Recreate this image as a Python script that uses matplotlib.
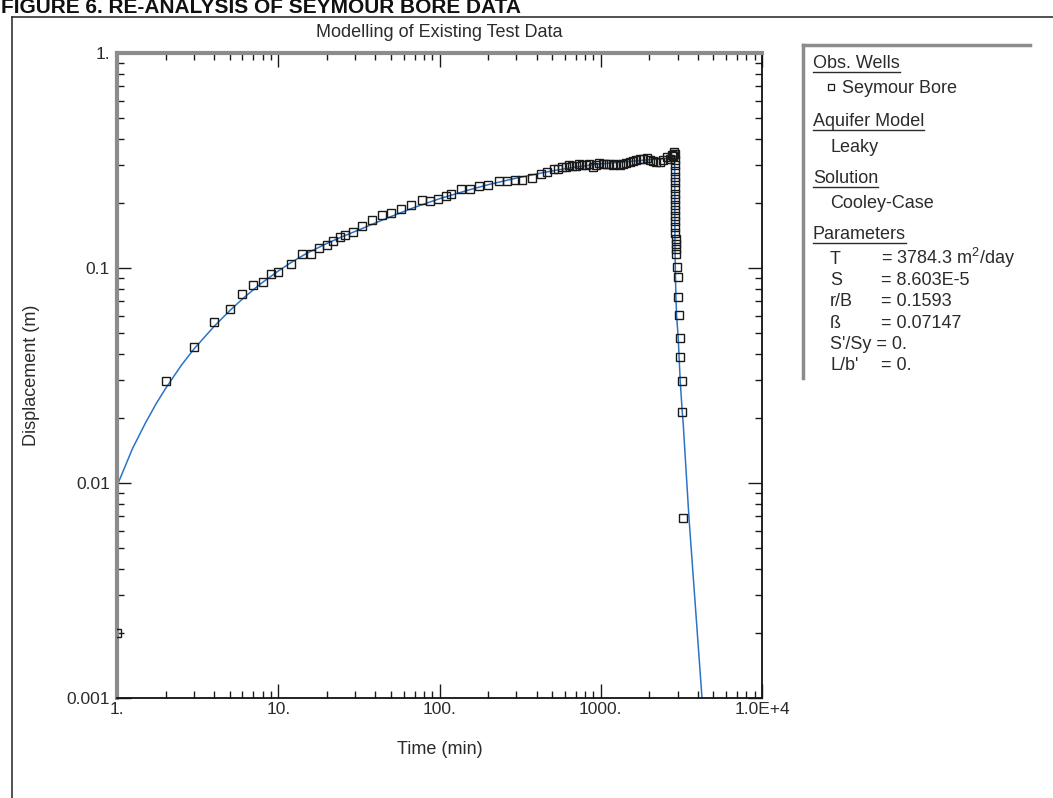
import matplotlib.pyplot as plt
import numpy as np
from matplotlib.lines import Line2D
from matplotlib.ticker import LogLocator, NullFormatter

plt.rcParams.update({
    "font.family": ["Liberation Sans", "DejaVu Sans"],
    "mathtext.fontset": "custom",
    "mathtext.rm": "Liberation Sans",
    "mathtext.it": "Liberation Sans:italic",
})

INK = "#2b2b2b"
FRAME = "#8c8c8c"
CURVE = "#2a74c6"

# observed displacement at Seymour Bore (pumping, then recovery)
obs_time = [1, 2, 3, 4, 5, 6, 7, 8, 9, 10, 12, 14, 16, 18, 20, 22, 24, 26, 29,
            33, 38, 44, 50, 58, 67, 78, 87, 98, 110, 118, 136, 155, 176, 200,
            234, 263, 295, 326, 376, 428, 466, 515,
            545, 578, 610, 640, 667, 700, 735, 770, 810, 850, 889, 930, 982,
            1030, 1080, 1133, 1190, 1250, 1308, 1370, 1440, 1510, 1580, 1660,
            1742, 1830, 1926, 2010, 2099, 2200, 2319, 2440, 2565, 2680, 2750,
            2794, 2830, 2860,
            2872, 2875, 2877, 2879, 2881, 2883, 2885, 2887, 2889, 2891, 2893,
            2896, 2899, 2902, 2905, 2909, 2913, 2918, 2924, 2954, 2997, 2997,
            3053, 3111, 3111, 3173, 3173, 3245]
obs_disp = [0.0020, 0.0297, 0.0431, 0.0562, 0.0645, 0.0757, 0.0833, 0.0860,
            0.0936, 0.0955, 0.1040, 0.1157, 0.1156, 0.1244, 0.1285, 0.1340,
            0.1398, 0.1427, 0.1474, 0.1570, 0.1672, 0.1762, 0.1800, 0.1877,
            0.1957, 0.2063, 0.2041, 0.2105, 0.2172, 0.2219, 0.2337, 0.2337,
            0.2411, 0.2437, 0.2539, 0.2539, 0.2563, 0.2563, 0.2617, 0.2728,
            0.2787, 0.2875,
            0.289, 0.2965, 0.294, 0.301, 0.2997, 0.297, 0.303, 0.3027, 0.300,
            0.304, 0.2959, 0.302, 0.3088, 0.305, 0.303, 0.3052, 0.300, 0.304,
            0.3016, 0.306, 0.309, 0.3112, 0.315, 0.318, 0.3209, 0.323, 0.3244,
            0.319, 0.3140, 0.312, 0.3105, 0.318, 0.3272, 0.322, 0.334, 0.3307,
            0.340, 0.345,
            0.338, 0.318, 0.300, 0.283, 0.266, 0.250, 0.236, 0.222, 0.209,
            0.197, 0.186, 0.175, 0.165, 0.155, 0.146, 0.137, 0.129, 0.122,
            0.1158, 0.1008, 0.0905, 0.0731, 0.0602, 0.0475, 0.0384, 0.0297,
            0.0215, 0.0069]

# fitted Cooley-Case leaky curve
fit_time = [1, 1.25, 1.5, 1.75, 2, 2.5, 3, 4, 5, 6, 7, 8, 10, 12, 15, 20, 25,
            30, 40, 50, 70, 100, 150, 200, 300, 500, 700, 1000, 1500, 2000,
            2500, 2865, 2872, 2877, 2881, 2885, 2900, 2925, 2954, 3022, 3111,
            3201, 3247, 3524, 4246, 4600]
fit_disp = [0.0097, 0.0145, 0.0190, 0.0234, 0.0275, 0.0352, 0.0420, 0.0535,
            0.0633, 0.0718, 0.0792, 0.0858, 0.0968, 0.1060, 0.1170, 0.1300,
            0.1400, 0.1480, 0.1620, 0.1735, 0.1915, 0.2100, 0.2300, 0.2440,
            0.2620, 0.2830, 0.2950, 0.3050, 0.3130, 0.3190, 0.3230, 0.3260,
            0.290, 0.210, 0.160, 0.129, 0.100, 0.0731, 0.0602, 0.0475, 0.0297,
            0.0215, 0.0188, 0.0069, 0.0010, 0.0004]

x_ticks = [1, 10, 100, 1000, 10000]
x_tick_labels = ["1.", "10.", "100.", "1000.", "1.0E+4"]
y_ticks = [0.001, 0.01, 0.1, 1]
y_tick_labels = ["0.001", "0.01", "0.1", "1."]

legend_sections = [("Obs. Wells", 68), ("Aquifer Model", 126),
                   ("Solution", 183), ("Parameters", 239)]
legend_items = [("Seymour Bore", 842, 93), ("Leaky", 830, 152),
                ("Cooley-Case", 830, 208)]
param_names = ["T", "S", "r/B", "ß", "S'/Sy", "L/b'"]
param_values = ["3784.3 m$^{2}$/day", "8.603E-5", "0.1593", "0.07147", "0.", "0."]

W, H = 1053, 798
fig = plt.figure(figsize=(W / 100, H / 100), dpi=100)


def fx(x):
    return x / W


def fy(y):
    return 1 - y / H


ax = fig.add_axes([fx(117), fy(698), (762 - 117) / W, (698 - 53) / H])
ax.plot(fit_time, fit_disp, color=CURVE, lw=1.1, zorder=2)
ax.plot(obs_time, obs_disp, ls="none", marker="s", ms=6.4, mfc="none",
        mec="#1a1a1a", mew=1.0, zorder=3)
ax.set_xscale("log")
ax.set_yscale("log")
ax.set_xlim(1, 1e4)
ax.set_ylim(1e-3, 1)

ax.set_xticks(x_ticks, x_tick_labels)
ax.set_yticks(y_ticks, y_tick_labels)
for axis in (ax.xaxis, ax.yaxis):
    axis.set_minor_locator(LogLocator(base=10, subs=np.arange(2, 10)))
    axis.set_minor_formatter(NullFormatter())
ax.tick_params(which="both", direction="in", top=True, right=True,
               color="#1a1a1a", labelcolor=INK, width=1.0)
ax.tick_params(which="major", length=10, labelsize=12.5)
ax.tick_params(which="minor", length=5)
ax.tick_params(axis="x", which="major", pad=3)
ax.tick_params(axis="y", which="major", pad=5)

for side in ("top", "left"):
    ax.spines[side].set_color(FRAME)
    ax.spines[side].set_linewidth(3)
for side in ("bottom", "right"):
    ax.spines[side].set_color("#111111")
    ax.spines[side].set_linewidth(1.3)

fig.text(fx(439.5), fy(37), "Modelling of Existing Test Data", fontsize=13,
         color=INK, ha="center", va="baseline")
fig.text(fx(439.5), fy(754), "Time (min)", fontsize=13, color=INK,
         ha="center", va="baseline")
fig.text(fx(32), fy(375), "Displacement (m)", fontsize=13, color=INK,
         rotation=90, ha="center", va="center")

# page heading, cut off by the scan
fig.text(fx(1), fy(13), "FIGURE 6. RE-ANALYSIS OF SEYMOUR BORE DATA",
         fontsize=15, fontweight="bold", color="#111111", va="baseline")

# outer frame
fig.add_artist(Line2D([fx(12), fx(12)], [fy(17), fy(798)], color="#333333", lw=1.2))
fig.add_artist(Line2D([fx(12), fx(1053)], [fy(17), fy(17)], color="#333333", lw=1.2))

# legend panel
fig.add_artist(Line2D([fx(803), fx(803)], [fy(45), fy(378)], color=FRAME, lw=2.5))
fig.add_artist(Line2D([fx(803), fx(1030)], [fy(45), fy(45)], color=FRAME, lw=2.5))

renderer = fig.canvas.get_renderer()
for label, base in legend_sections:
    t = fig.text(fx(813), fy(base), label, fontsize=13, color=INK, va="baseline")
    bb = t.get_window_extent(renderer)
    fig.add_artist(Line2D([bb.x0 / W, bb.x1 / W], [fy(base + 3.5)] * 2,
                          color=INK, lw=1.0))

for label, x, base in legend_items:
    fig.text(fx(x), fy(base), label, fontsize=13, color=INK, va="baseline")
fig.add_artist(Line2D([fx(831)], [fy(87)], marker="s", ms=5, mfc="none",
                      mec="#1a1a1a", mew=0.9, ls="none"))

for i, (name, value) in enumerate(zip(param_names, param_values)):
    base = 264 + i * 21.2
    if name == "S'/Sy":
        fig.text(fx(830), fy(base), f"{name} = {value}", fontsize=13,
                 color=INK, va="baseline")
    else:
        fig.text(fx(830), fy(base), name, fontsize=13, color=INK, va="baseline")
        fig.text(fx(881), fy(base), f"= {value}", fontsize=13, color=INK,
                 va="baseline")

fig.savefig("out.png", dpi=100)
